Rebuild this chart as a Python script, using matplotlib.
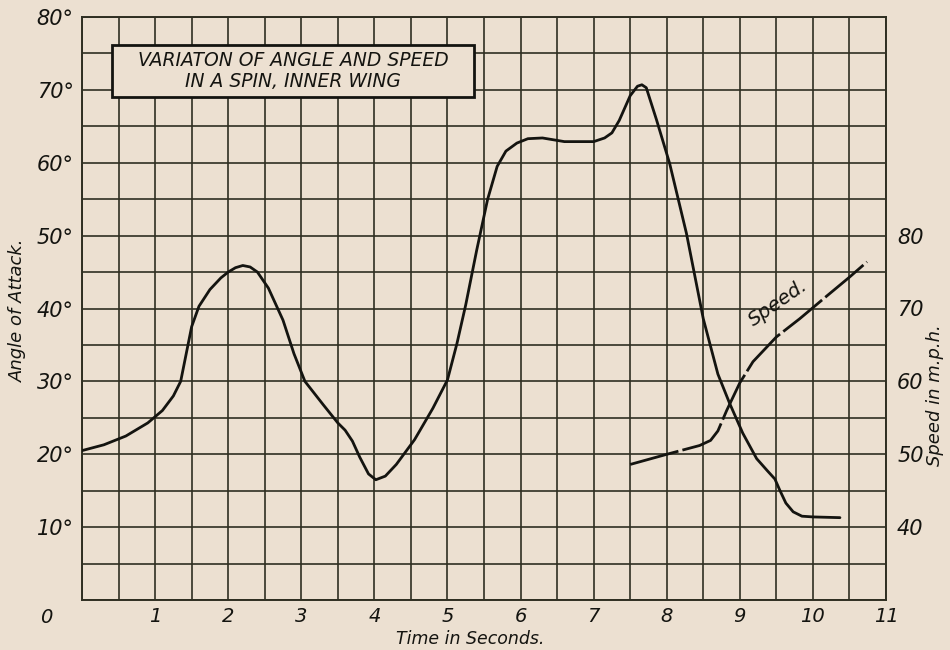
import matplotlib
matplotlib.use("Agg")
import matplotlib.pyplot as plt
from matplotlib.ticker import MultipleLocator
from matplotlib.patches import Rectangle

# ---- data ----
time_angle = [0, 0.3, 0.6, 0.9, 1.1, 1.25, 1.35, 1.42, 1.5, 1.6, 1.75, 1.9, 2.0, 2.1,
              2.2, 2.3, 2.4, 2.55, 2.75, 2.9, 3.05, 3.3, 3.5, 3.6, 3.7, 3.8, 3.92, 4.02,
              4.15, 4.3, 4.55, 4.8, 5.0, 5.13, 5.25, 5.4, 5.55, 5.68, 5.8, 5.95, 6.1,
              6.3, 6.6, 7.0, 7.15, 7.25, 7.35, 7.5, 7.6, 7.66, 7.72, 7.86, 8.04, 8.27,
              8.5, 8.7, 8.86, 9.04, 9.23, 9.38, 9.48, 9.55, 9.63, 9.73, 9.85, 10.0,
              10.37]
angle = [20.5, 21.3, 22.5, 24.3, 26.0, 28.0, 30.0, 33.5, 37.5, 40.3, 42.6, 44.2, 45.0,
         45.6, 45.9, 45.7, 45.0, 42.8, 38.4, 33.8, 30.0, 26.8, 24.3, 23.3, 21.8, 19.6,
         17.3, 16.5, 17.0, 18.6, 22.0, 26.3, 30.2, 35.2, 40.5, 48.0, 55.0, 59.5, 61.6,
         62.7, 63.3, 63.4, 62.9, 62.9, 63.4, 64.1, 65.8, 69.2, 70.5, 70.7, 70.3, 65.9,
         59.9, 50.3, 38.6, 31.0, 27.0, 22.9, 19.4, 17.7, 16.6, 15.0, 13.3, 12.1, 11.5,
         11.4, 11.3]

time_speed = [7.5, 8.04, 8.45, 8.6, 8.7, 8.82, 9.0, 9.18, 9.5, 9.82, 10.2, 10.5, 10.74]
speed = [48.6, 50.1, 51.2, 51.9, 53.2, 56.0, 59.8, 62.7, 66.1, 68.6, 71.8, 74.3, 76.4]

x_ticks = [1, 2, 3, 4, 5, 6, 7, 8, 9, 10, 11]
angle_ticks = [10, 20, 30, 40, 50, 60, 70, 80]
speed_ticks = [40, 50, 60, 70, 80]

title_text = "VARIATON OF ANGLE AND SPEED\nIN A SPIN, INNER WING"

# ---- style ----
BG = "#ece0d1"
GRID = "#2f2f22"
INK = "#141410"
plt.rcParams['font.family'] = ['DejaVu Sans']

fig = plt.figure(figsize=(9.5, 6.5), dpi=100, facecolor=BG)
ax = fig.add_axes([82/950, 1 - 600/650, 804/950, 583/650])
ax.set_facecolor(BG)
ax.set_xlim(0, 11)
ax.set_ylim(0, 80)

ax.xaxis.set_major_locator(MultipleLocator(1))
ax.xaxis.set_minor_locator(MultipleLocator(0.5))
ax.yaxis.set_major_locator(MultipleLocator(10))
ax.yaxis.set_minor_locator(MultipleLocator(5))
ax.grid(which='both', color=GRID, linewidth=1.2)
ax.set_axisbelow(True)
for s in ax.spines.values():
    s.set_color(GRID)
    s.set_linewidth(1.4)

ax.set_xticks(x_ticks)
ax.set_xticklabels([str(v) for v in x_ticks], fontstyle='italic', fontsize=14, color=INK)
ax.set_yticks(angle_ticks)
ax.set_yticklabels([f"{v}°" for v in angle_ticks], fontstyle='italic', fontsize=15, color=INK)
ax.tick_params(which='both', length=0)
ax.tick_params(axis='x', pad=5)
ax.tick_params(axis='y', pad=6)
ax.text(-0.045, -0.03, "0", transform=ax.transAxes, fontstyle='italic', fontsize=14,
        color=INK, ha='center', va='center')

ax.plot(time_angle, angle, color=INK, linewidth=2.0, zorder=5,
        solid_joinstyle='round', solid_capstyle='round')

fig.text(470/950, 1 - 639/650, "Time in Seconds.", fontstyle='italic', fontsize=12.5,
         color=INK, ha='center', va='center')
fig.text(18/950, 1 - 310/650, "Angle of Attack.", fontstyle='italic', fontsize=13,
         color=INK, ha='center', va='center', rotation=90)

# title box
ax.add_patch(Rectangle((0.037, 0.863), 0.4506, 0.089, transform=ax.transAxes,
                       facecolor=BG, edgecolor=INK, linewidth=2.0, zorder=6))
ax.text(0.2623, 0.9075, title_text, transform=ax.transAxes, ha='center', va='center',
        fontstyle='italic', fontsize=13.5, color=INK, linespacing=1.15, zorder=7)

# speed axis
ax2 = ax.twinx()
ax2.set_ylim(30, 110)
ax2.set_yticks(speed_ticks)
ax2.set_yticklabels([str(v) for v in speed_ticks], fontstyle='italic', fontsize=15, color=INK)
ax2.tick_params(length=0, pad=8)
for s in ax2.spines.values():
    s.set_visible(False)
ax2.plot(time_speed, speed, color=INK, linewidth=2.0, linestyle=(0, (18, 1.5)), zorder=5)
ax2.text(9.52, 70.8, "Speed.", rotation=35, fontstyle='italic', fontsize=14,
         color=INK, ha='center', va='center')
fig.text(935/950, 1 - 395/650, "Speed in m.p.h.", fontstyle='italic', fontsize=13,
         color=INK, ha='center', va='center', rotation=90)

fig.savefig("out.png", dpi=100, facecolor=BG)
